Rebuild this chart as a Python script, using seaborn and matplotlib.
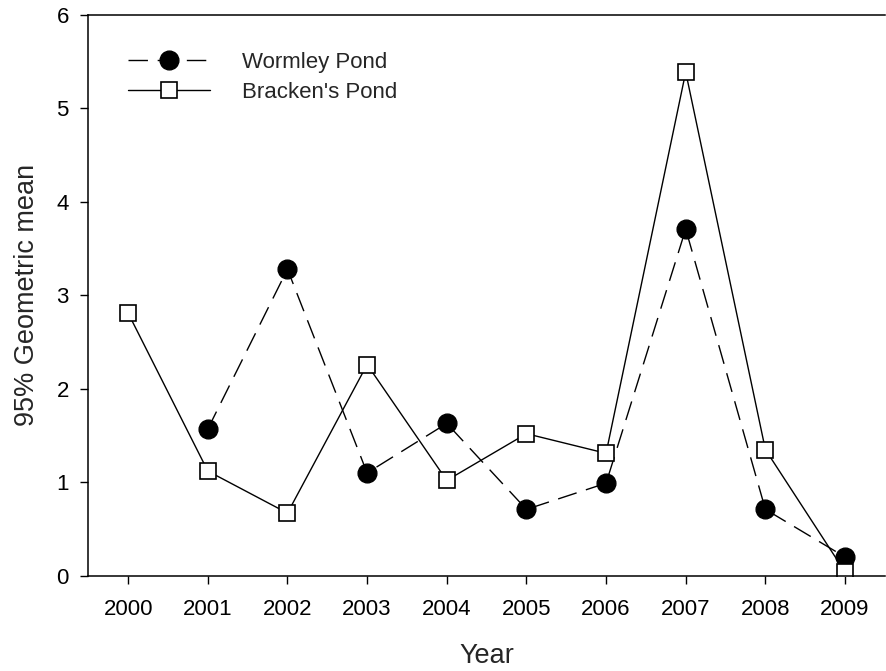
import numpy as np
import pandas as pd
import matplotlib
matplotlib.use("Agg")
import matplotlib.pyplot as plt
import seaborn as sns

# values
years = [2000, 2001, 2002, 2003, 2004, 2005, 2006, 2007, 2008, 2009]
wormley = [np.nan, 1.57, 3.28, 1.10, 1.63, 0.71, 0.99, 3.71, 0.71, 0.20]
brackens = [2.81, 1.12, 0.67, 2.26, 1.02, 1.52, 1.31, 5.39, 1.35, 0.04]
series_names = ["Wormley Pond", "Bracken's Pond"]

sns.set_style("white")
plt.rcParams["font.family"] = ["Liberation Sans", "DejaVu Sans"]

df = pd.DataFrame({"Year": years, "Wormley": wormley, "Brackens": brackens})

fig = plt.figure(figsize=(8.86, 6.71), dpi=100)
ax = fig.add_axes([0.0997, 0.142, 0.899, 0.8356])

sns.lineplot(data=df, x="Year", y="Wormley", ax=ax, color="black", lw=1.0,
             linestyle=(0, (14, 7)), marker="o", markersize=13.5,
             markerfacecolor="black", markeredgecolor="black",
             markeredgewidth=1.0, label=series_names[0])
sns.lineplot(data=df, x="Year", y="Brackens", ax=ax, color="black", lw=1.0,
             linestyle="-", marker="s", markersize=11.5,
             markerfacecolor="white", markeredgecolor="black",
             markeredgewidth=1.2, label=series_names[1])

ax.set_xlim(1999.5, 2009.5)
ax.set_ylim(0, 6)
ax.set_xticks(years)
ax.set_xticklabels([str(y) for y in years])
ax.set_yticks(range(0, 7))

for side in ["left", "bottom", "top"]:
    ax.spines[side].set_color("black")
    ax.spines[side].set_linewidth(1.1)
ax.spines["right"].set_visible(False)

ax.tick_params(axis="both", direction="out", length=6, width=1.0,
               colors="black", labelsize=16)
ax.tick_params(axis="x", pad=11, bottom=True)
ax.tick_params(axis="y", pad=8, left=True)

ax.set_xlabel("Year", fontsize=19.5, labelpad=16)
ax.set_ylabel("95% Geometric mean", fontsize=19.5, labelpad=12)

ax.legend(loc="upper left", bbox_to_anchor=(0.025, 0.97), frameon=False,
          fontsize=16, handlelength=3.7, handletextpad=1.44, numpoints=1,
          labelspacing=0.4)

fig.savefig("out.png", dpi=100)
